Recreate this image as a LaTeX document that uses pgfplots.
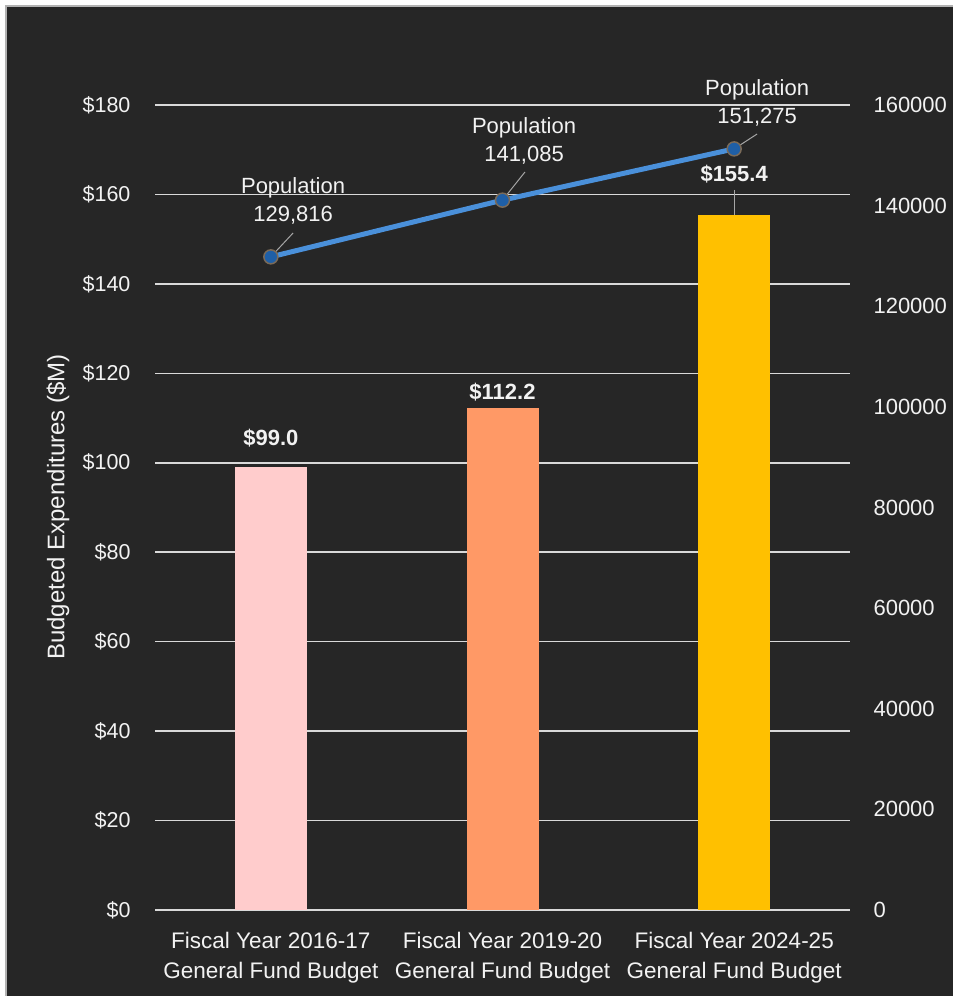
\documentclass[border=0pt]{standalone}
\usepackage{pgfplots}
\pgfplotsset{compat=1.18}
\usepackage{fontspec}
\setmainfont{Liberation Sans}
\definecolor{bg}{HTML}{262626}
\definecolor{gridc}{HTML}{D9D9D9}
\definecolor{txt}{HTML}{F2F2F2}
\definecolor{barA}{HTML}{FFCCCC}
\definecolor{barB}{HTML}{FF9966}
\definecolor{barC}{HTML}{FFC000}
\definecolor{popline}{HTML}{4A90DA}
\definecolor{popmark}{HTML}{1F5FA6}
\definecolor{popedge}{HTML}{7A6A58}
\definecolor{leader}{HTML}{A6A6A6}
\begin{document}
\begin{tikzpicture}[x=1pt,y=1pt]
\useasboundingbox (0,0) rectangle (953,996);
\fill[white] (0,0) rectangle (953,996);
\fill[bg] (6,0) rectangle (953,990);
\draw[line width=1.2pt, color=gray!60] (6,0) -- (6,990) -- (953,990);
\begin{axis}[
  at={(155pt,86pt)}, anchor=south west,
  scale only axis, width=695pt, height=805pt,
  xmin=-0.5, xmax=2.5, ymin=0, ymax=180,
  ytick={0,20,...,180},
  xtick={0,1,2},
  xticklabels={{Fiscal Year 2016-17\\General Fund Budget},{Fiscal Year 2019-20\\General Fund Budget},{Fiscal Year 2024-25\\General Fund Budget}},
  xticklabel style={align=center, font=\fontsize{22.5}{30}\selectfont, text=txt, yshift=-19pt},
  yticklabel={\$\pgfmathprintnumber[assume math mode=true,fixed]{\tick}},
  yticklabel style={font=\fontsize{21.5}{26}\selectfont, text=txt, xshift=-21pt},
  major tick length=0pt,
  axis line style={draw=none},
  ymajorgrids, grid style={gridc, line width=1.5pt},
  clip=false,
]
\addplot[ybar, bar width=72pt, bar shift=0pt, fill=barA, draw=none] coordinates {(0,99.0)};
\addplot[ybar, bar width=72pt, bar shift=0pt, fill=barB, draw=none] coordinates {(1,112.2)};
\addplot[ybar, bar width=72pt, bar shift=0pt, fill=barC, draw=none] coordinates {(2,155.4)};
\draw[leader, line width=1pt] (axis cs:2,161) -- (axis cs:2,155.4);
\node[text=txt, font=\fontsize{22}{26}\selectfont\bfseries] at (axis cs:0,105.5) {\$99.0};
\node[text=txt, font=\fontsize{22}{26}\selectfont\bfseries] at (axis cs:1,115.8) {\$112.2};
\node[text=txt, font=\fontsize{22}{26}\selectfont\bfseries] at (axis cs:2,164.6) {\$155.4};
\end{axis}
\begin{axis}[
  at={(155pt,86pt)}, anchor=south west,
  scale only axis, width=695pt, height=805pt,
  xmin=-0.5, xmax=2.5, ymin=0, ymax=160000,
  axis y line*=right, axis x line=none,
  ytick={0,20000,...,160000},
  scaled y ticks=false,
  yticklabel={\pgfmathprintnumber[assume math mode=true,fixed,precision=0,1000 sep={}]{\tick}},
  yticklabel style={font=\fontsize{22}{26}\selectfont, text=txt, xshift=20pt},
  major tick length=0pt,
  axis line style={draw=none},
  clip=false,
]
\addplot[popline, line width=5pt, mark=*, mark size=7pt,
  mark options={fill=popmark, draw=popedge, line width=1.5pt}]
  coordinates {(0,129816) (1,141085) (2,151275)};
\draw[leader, line width=1pt] (axis cs:0,129816) -- (axis cs:0.096,134559);
\draw[leader, line width=1pt] (axis cs:1,141085) -- (axis cs:1.097,146683);
\draw[leader, line width=1pt] (axis cs:2,151275) -- (axis cs:2.099,154236);
\node[text=txt, align=center, font=\fontsize{22}{28}\selectfont] at (axis cs:0.096,140900) {Population\\129,816};
\node[text=txt, align=center, font=\fontsize{22}{28}\selectfont] at (axis cs:1.093,152900) {Population\\141,085};
\node[text=txt, align=center, font=\fontsize{22}{28}\selectfont] at (axis cs:2.099,160500) {Population\\151,275};
\end{axis}
\node[rotate=90, text=txt, font=\fontsize{24}{28}\selectfont] at (58,489) {Budgeted Expenditures (\$M)};
\end{tikzpicture}
\end{document}
